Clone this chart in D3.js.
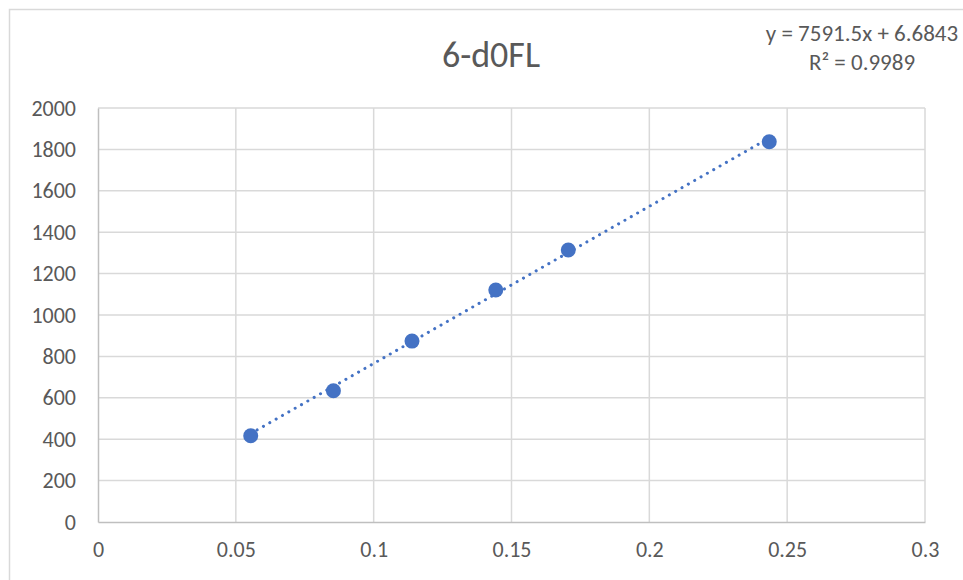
<!DOCTYPE html>
<html><head><meta charset="utf-8">
<script src="https://cdn.jsdelivr.net/npm/d3@7"></script>
<style>
html,body{margin:0;padding:0;background:#fff;}
svg text{font-family:Carlito,"Liberation Sans Narrow","Liberation Sans",sans-serif;fill:#595959;}
</style></head><body>
<svg id="c" width="963" height="580"></svg>
<script>
const title = "6-d0FL";
const xValues = [0.0554, 0.0854, 0.1139, 0.1443, 0.1706, 0.2435];
const yValues = [417, 634, 874, 1121, 1314, 1837];
const xTicks = [0, 0.05, 0.1, 0.15, 0.2, 0.25, 0.3];
const yTicks = [0, 200, 400, 600, 800, 1000, 1200, 1400, 1600, 1800, 2000];
const slope = 7591.5, intercept = 6.6843;
const eqLines = ["y = 7591.5x + 6.6843", "R² = 0.9989"];

const svg = d3.select("#c");
const x = d3.scaleLinear().domain([0, 0.3]).range([98, 925]);
const y = d3.scaleLinear().domain([0, 2000]).range([522, 108]);

// chart border
svg.append("rect").attr("x",9.5).attr("y",9.5).attr("width",980).attr("height",600)
  .attr("fill","none").attr("stroke","#d9d9d9").attr("stroke-width",1.5);

// gridlines
svg.append("g").selectAll("line").data(yTicks.slice(1)).join("line")
  .attr("x1",x(0)).attr("x2",x(0.3)).attr("y1",d=>y(d)).attr("y2",d=>y(d))
  .attr("stroke","#d9d9d9").attr("stroke-width",1.5);
svg.append("g").selectAll("line").data(xTicks.slice(1)).join("line")
  .attr("x1",d=>x(d)).attr("x2",d=>x(d)).attr("y1",y(0)).attr("y2",y(2000))
  .attr("stroke","#d9d9d9").attr("stroke-width",1.5);

// axes
const xAxis = d3.axisBottom(x).tickValues(xTicks).tickSize(0).tickPadding(19).tickFormat(d=>String(d));
const gx = svg.append("g").attr("transform",`translate(0,${y(0)})`).call(xAxis);
gx.select(".domain").attr("stroke","#bfbfbf").attr("stroke-width",1.5);
gx.selectAll("text").attr("font-size",22).attr("fill","#595959");

const yAxis = d3.axisLeft(y).tickValues(yTicks).tickSize(0).tickPadding(22).tickFormat(d=>String(d));
const gy = svg.append("g").attr("transform",`translate(${x(0)},0)`).call(yAxis);
gy.select(".domain").attr("stroke","#bfbfbf").attr("stroke-width",1.5);
gy.selectAll("text").attr("font-size",22).attr("fill","#595959");

// trendline
const x0 = d3.min(xValues), x1 = d3.max(xValues);
svg.append("line")
  .attr("x1",x(x0)).attr("y1",y(slope*x0+intercept))
  .attr("x2",x(x1)).attr("y2",y(slope*x1+intercept))
  .attr("stroke","#4472c4").attr("stroke-width",3)
  .attr("stroke-linecap","round").attr("stroke-dasharray","0.1 7.2");

// points
svg.append("g").selectAll("circle").data(xValues.map((v,i)=>[v,yValues[i]])).join("circle")
  .attr("cx",d=>x(d[0])).attr("cy",d=>y(d[1])).attr("r",7.5).attr("fill","#4472c4");

// title
svg.append("text").attr("x",491).attr("y",67).attr("text-anchor","middle")
  .attr("font-size",36).text(title);

// equation
svg.append("g").selectAll("text").data(eqLines).join("text")
  .attr("x",862).attr("y",(d,i)=>41+i*29).attr("text-anchor","middle")
  .attr("font-size",23).text(d=>d);
</script>
</body></html>
